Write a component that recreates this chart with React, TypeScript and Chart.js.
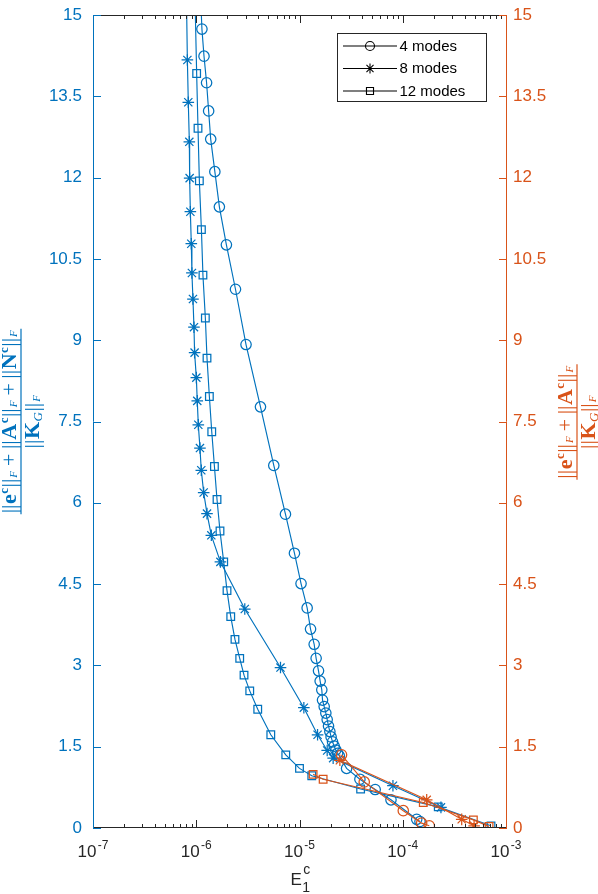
import React, { useEffect, useRef } from 'react';
import { Chart, registerables } from 'chart.js';

Chart.register(...registerables);

const BLUE = '#0072BD';
const ORANGE = '#D95319';
const AXIS_GRAY = '#262626';
const SANS = '"Liberation Sans", Arial, Helvetica, sans-serif';
const SERIF = '"Liberation Serif", "DejaVu Serif", serif';

// ---- Data ----
const modes4X = [1.107e-6, 1.135e-6, 1.189e-6, 1.259e-6, 1.318e-6, 1.38e-6, 1.514e-6, 1.675e-6, 1.959e-6, 2.399e-6, 3.034e-6, 4.188e-6, 5.636e-6, 7.311e-6, 8.933e-6, 1.035e-5, 1.186e-5, 1.279e-5, 1.387e-5, 1.449e-5, 1.528e-5, 1.585e-5, 1.644e-5, 1.671e-5, 1.734e-5, 1.799e-5, 1.854e-5, 1.91e-5, 1.968e-5, 2.023e-5, 2.089e-5, 2.168e-5, 2.249e-5, 2.339e-5, 2.432e-5, 2.858e-5, 3.846e-5, 5.408e-5, 7.691e-5, 1.365e-4, 1.469e-4];
const modes4Y = [15.25, 14.74, 14.24, 13.75, 13.23, 12.71, 12.11, 11.46, 10.76, 9.94, 8.92, 7.77, 6.69, 5.79, 5.07, 4.51, 4.06, 3.67, 3.39, 3.13, 2.9, 2.71, 2.55, 2.36, 2.24, 2.12, 2.0, 1.88, 1.78, 1.68, 1.59, 1.51, 1.44, 1.38, 1.33, 1.1, 0.9, 0.71, 0.52, 0.16, 0.12];

const modes8X = [8.054e-7, 8.204e-7, 8.375e-7, 8.57e-7, 8.63e-7, 8.77e-7, 8.954e-7, 9.078e-7, 9.29e-7, 9.506e-7, 9.638e-7, 1.002e-6, 1.023e-6, 1.047e-6, 1.086e-6, 1.119e-6, 1.18e-6, 1.271e-6, 1.4e-6, 1.714e-6, 2.951e-6, 6.546e-6, 1.102e-5, 1.496e-5, 1.854e-5, 2.118e-5, 8.035e-5, 2.344e-4];
const modes8Y = [15.2, 14.17, 13.39, 12.66, 11.99, 11.37, 10.78, 10.24, 9.76, 9.24, 8.77, 8.31, 7.88, 7.44, 7.01, 6.6, 6.19, 5.8, 5.4, 4.91, 4.04, 2.96, 2.22, 1.72, 1.43, 1.29, 0.78, 0.38];

const modes12X = [9.75e-7, 1.009e-6, 1.04e-6, 1.072e-6, 1.122e-6, 1.161e-6, 1.225e-6, 1.271e-6, 1.34e-6, 1.413e-6, 1.5e-6, 1.589e-6, 1.698e-6, 1.845e-6, 1.986e-6, 2.158e-6, 2.371e-6, 2.636e-6, 2.902e-6, 3.297e-6, 3.94e-6, 5.272e-6, 7.362e-6, 1.0e-5, 1.315e-5, 3.908e-5, 2.208e-4, 7.161e-4];
const modes12Y = [15.2, 13.92, 12.91, 11.94, 11.04, 10.2, 9.41, 8.67, 7.96, 7.31, 6.67, 6.06, 5.48, 4.91, 4.38, 3.9, 3.48, 3.13, 2.82, 2.53, 2.19, 1.72, 1.35, 1.1, 0.965, 0.72, 0.39, 0.04];

const rightModes4X = [2.553e-5, 4.236e-5, 1.012e-4, 1.524e-4, 1.807e-4];
const rightModes4Y = [1.35, 0.85, 0.32, 0.09, 0.04];

const rightModes8X = [2.46e-5, 1.706e-4, 3.724e-4, 4.909e-4];
const rightModes8Y = [1.25, 0.52, 0.16, 0.04];

const rightModes12X = [1.355e-5, 1.694e-5, 1.581e-4, 4.831e-4, 6.855e-4];
const rightModes12Y = [0.99, 0.9, 0.47, 0.15, 0.03];

const yTicks = [0, 1.5, 3, 4.5, 6, 7.5, 9, 10.5, 12, 13.5, 15];
const xDecades = [-7, -6, -5, -4, -3];
const legendLabels = ['4 modes', '8 modes', '12 modes'];
const legendStyles = ['circle', 'star', 'rect'];

type Seg = { t: string; font: string; dy?: number; pad?: number };

function richWidth(ctx: CanvasRenderingContext2D, segs: Seg[]) {
  let total = 0;
  const widths = segs.map((s) => {
    ctx.font = s.font;
    const w = ctx.measureText(s.t).width + 2 * (s.pad || 0);
    total += w;
    return w;
  });
  return { total, widths };
}

function drawRich(ctx: CanvasRenderingContext2D, segs: Seg[], cx: number, baseY: number) {
  const { total, widths } = richWidth(ctx, segs);
  let x = cx - total / 2;
  segs.forEach((s, i) => {
    ctx.font = s.font;
    ctx.fillText(s.t, x + (s.pad || 0), baseY + (s.dy || 0));
    x += widths[i];
  });
  return total;
}

const BIG_B = `bold 22px ${SERIF}`;
const BIG_R = `22px ${SERIF}`;
const SUP_B = `bold 13px ${SERIF}`;
const SUB_I = `italic 11px ${SERIF}`;
const SUB_I2 = `italic 13px ${SERIF}`;

function normSegs(letter: string): Seg[] {
  return [
    { t: '||', font: BIG_R },
    { t: letter, font: BIG_B, pad: 0.5 },
    { t: 'c', font: SUP_B, dy: -8 },
    { t: '||', font: BIG_R, pad: 0.5 },
    { t: 'F', font: SUB_I, dy: 1, pad: 0.5 },
  ];
}
const plus: Seg = { t: '+', font: BIG_R, pad: 4.5 };
const denomSegs: Seg[] = [
  { t: '||', font: BIG_R },
  { t: 'K', font: BIG_B, pad: 0.5 },
  { t: 'G', font: SUB_I2, dy: 3 },
  { t: '||', font: BIG_R, pad: 0.5 },
  { t: 'F', font: SUB_I, dy: 1, pad: 0.5 },
];

function drawFraction(
  ctx: CanvasRenderingContext2D,
  num: Seg[],
  cx: number,
  cy: number,
  lineLen: number,
  color: string
) {
  ctx.save();
  ctx.translate(cx, cy);
  ctx.rotate(-Math.PI / 2);
  ctx.fillStyle = color;
  ctx.strokeStyle = color;
  ctx.textAlign = 'left';
  ctx.textBaseline = 'alphabetic';
  drawRich(ctx, num, 0, -5);
  drawRich(ctx, denomSegs, 0, 18);
  ctx.lineWidth = 1.2;
  ctx.beginPath();
  ctx.moveTo(-lineLen / 2, 0);
  ctx.lineTo(lineLen / 2, 0);
  ctx.stroke();
  ctx.restore();
}

function drawMarker(ctx: CanvasRenderingContext2D, style: string, x: number, y: number, r: number) {
  ctx.beginPath();
  if (style === 'circle') {
    ctx.arc(x, y, r, 0, Math.PI * 2);
  } else if (style === 'rect') {
    ctx.rect(x - r * 0.75, y - r * 0.75, r * 1.5, r * 1.5);
  } else {
    for (let k = 0; k < 4; k++) {
      const a = (k * Math.PI) / 4;
      ctx.moveTo(x - Math.cos(a) * r, y - Math.sin(a) * r);
      ctx.lineTo(x + Math.cos(a) * r, y + Math.sin(a) * r);
    }
  }
  ctx.stroke();
}

const decorPlugin = {
  id: 'decor',
  afterDraw(chart: any) {
    const ctx: CanvasRenderingContext2D = chart.ctx;
    const { left, right, top, bottom } = chart.chartArea;
    const xs = chart.scales.x;
    const yl = chart.scales.y;
    const yr = chart.scales.y2;
    ctx.save();
    ctx.lineWidth = 1;

    // top & bottom axes with log ticks
    ctx.strokeStyle = AXIS_GRAY;
    ctx.beginPath();
    ctx.moveTo(left, bottom - 0.5);
    ctx.lineTo(right + 1, bottom - 0.5);
    ctx.moveTo(left, top + 0.5);
    ctx.lineTo(right + 1, top + 0.5);
    xDecades.forEach((e) => {
      for (let k = 1; k <= 9; k++) {
        const v = k * Math.pow(10, e);
        if (v > 1.0001e-3) break;
        const px = Math.round(xs.getPixelForValue(v)) + 0.5;
        const len = k === 1 ? 8 : 4;
        ctx.moveTo(px, bottom);
        ctx.lineTo(px, bottom - len);
        ctx.moveTo(px, top);
        ctx.lineTo(px, top + len);
      }
    });
    ctx.stroke();

    // left axis
    ctx.strokeStyle = BLUE;
    ctx.beginPath();
    ctx.moveTo(left + 0.5, top);
    ctx.lineTo(left + 0.5, bottom);
    yTicks.forEach((t) => {
      const py = Math.round(yl.getPixelForValue(t)) + 0.5;
      ctx.moveTo(left, py);
      ctx.lineTo(left + 8, py);
    });
    ctx.stroke();

    // right axis
    ctx.strokeStyle = ORANGE;
    ctx.beginPath();
    ctx.moveTo(right + 0.5, top);
    ctx.lineTo(right + 0.5, bottom);
    yTicks.forEach((t) => {
      const py = Math.round(yr.getPixelForValue(t)) + 0.5;
      ctx.moveTo(right + 1, py);
      ctx.lineTo(right - 7, py);
    });
    ctx.stroke();

    // x tick labels 10^e
    ctx.fillStyle = AXIS_GRAY;
    ctx.textBaseline = 'alphabetic';
    ctx.textAlign = 'left';
    xDecades.forEach((e) => {
      const px = xs.getPixelForValue(Math.pow(10, e));
      ctx.font = `17px ${SANS}`;
      const wb = ctx.measureText('10').width;
      ctx.font = `12px ${SANS}`;
      const exp = String(e);
      const we = ctx.measureText(exp).width;
      const gap = 1.5;
      const x0 = px - (wb + gap + we) / 2;
      ctx.font = `17px ${SANS}`;
      ctx.fillText('10', x0, 856.5);
      ctx.font = `12px ${SANS}`;
      ctx.fillText(exp, x0 + wb + gap, 849);
    });

    // x title E_1^c
    {
      ctx.font = `17px ${SANS}`;
      const wE = ctx.measureText('E').width;
      ctx.font = `14px ${SANS}`;
      const wc = ctx.measureText('c').width;
      const w1 = ctx.measureText('1').width;
      const tot = wE + 1 + Math.max(wc, w1);
      const cx = (left + right) / 2 + 1;
      const x0 = cx - tot / 2;
      ctx.font = `17px ${SANS}`;
      ctx.fillText('E', x0, 885);
      ctx.font = `14px ${SANS}`;
      ctx.fillText('c', x0 + wE + 1.5, 874);
      ctx.fillText('1', x0 + wE + 0.5, 891.5);
    }

    // y titles
    const leftNum: Seg[] = [...normSegs('e'), plus, ...normSegs('A'), plus, ...normSegs('N')];
    const rightNum: Seg[] = [...normSegs('e'), plus, ...normSegs('A')];
    const lw = richWidth(ctx, leftNum).total;
    const rw = richWidth(ctx, rightNum).total;
    drawFraction(ctx, leftNum, 21, 421.5, lw + 2, BLUE);
    drawFraction(ctx, rightNum, 577, 422, rw + 2, ORANGE);

    // legend
    const bw = 149;
    const bh = 68;
    const bx = right - 20 - bw + 0.5;
    const by = top + 18 + 0.5;
    ctx.fillStyle = '#ffffff';
    ctx.fillRect(bx, by, bw, bh);
    ctx.strokeStyle = AXIS_GRAY;
    ctx.lineWidth = 1;
    ctx.strokeRect(bx, by, bw, bh);
    legendLabels.forEach((lab, i) => {
      const ly = by + 12.5 + i * 22.5;
      ctx.strokeStyle = '#000000';
      ctx.lineWidth = 1.1;
      ctx.beginPath();
      ctx.moveTo(bx + 5.5, ly);
      ctx.lineTo(bx + 59.5, ly);
      ctx.stroke();
      const st = legendStyles[i];
      drawMarker(ctx, st, bx + 32.5, ly, st === 'circle' ? 4.5 : st === 'star' ? 5 : 4.7);
      ctx.fillStyle = '#000000';
      ctx.font = `15px ${SANS}`;
      ctx.textBaseline = 'middle';
      ctx.fillText(lab, bx + 62, ly + 0.5);
      ctx.textBaseline = 'alphabetic';
    });

    ctx.restore();
  },
};

function toPoints(xs: number[], ys: number[]) {
  return xs.map((x, i) => ({ x, y: ys[i] }));
}

function ds(label: string, xs: number[], ys: number[], color: string, style: string, axis: string, order: number) {
  return {
    label,
    data: toPoints(xs, ys),
    borderColor: color,
    backgroundColor: color,
    borderWidth: 1.15,
    pointStyle: style,
    pointRadius: style === 'circle' ? 5.2 : style === 'star' ? 5.8 : 5.4,
    pointBorderWidth: 1.25,
    pointBorderColor: color,
    pointBackgroundColor: 'rgba(0,0,0,0)',
    yAxisID: axis,
    order,
    tension: 0,
  };
}

const zeroPad = (s: any) => {
  s.paddingTop = 0;
  s.paddingBottom = 0;
};

export default function App() {
  const ref = useRef<HTMLCanvasElement | null>(null);
  useEffect(() => {
    document.body.style.margin = '0';
    if (!ref.current) return;
    const chart = new Chart(ref.current, {
      type: 'line',
      data: {
        datasets: [
          ds('4 modes', modes4X, modes4Y, BLUE, 'circle', 'y', 2),
          ds('8 modes', modes8X, modes8Y, BLUE, 'star', 'y', 2),
          ds('12 modes', modes12X, modes12Y, BLUE, 'rect', 'y', 2),
          ds('4 modes (right)', rightModes4X, rightModes4Y, ORANGE, 'circle', 'y2', 1),
          ds('8 modes (right)', rightModes8X, rightModes8Y, ORANGE, 'star', 'y2', 1),
          ds('12 modes (right)', rightModes12X, rightModes12Y, ORANGE, 'rect', 'y2', 1),
        ] as any,
      },
      options: {
        animation: false,
        responsive: true,
        maintainAspectRatio: false,
        layout: { padding: { top: 15, left: 0, right: 0, bottom: 0 } },
        plugins: { legend: { display: false }, tooltip: { enabled: false } },
        scales: {
          x: {
            type: 'logarithmic',
            min: 1e-7,
            max: 1e-3,
            ticks: { display: false },
            grid: { display: false, drawTicks: false },
            border: { display: false },
            afterFit: (s: any) => {
              s.height = 66;
              s.paddingLeft = 0;
              s.paddingRight = 0;
            },
          },
          y: {
            type: 'linear',
            position: 'left',
            min: 0,
            max: 15,
            ticks: {
              stepSize: 1.5,
              color: BLUE,
              padding: 11,
              font: { family: SANS, size: 17 },
              callback: (v: any) => String(Math.round(Number(v) * 10) / 10),
            },
            grid: { display: false, drawTicks: false },
            border: { display: false },
            afterFit: (s: any) => {
              s.width = 93;
              zeroPad(s);
            },
          },
          y2: {
            type: 'linear',
            position: 'right',
            min: 0,
            max: 15,
            ticks: {
              stepSize: 1.5,
              color: ORANGE,
              padding: 7,
              font: { family: SANS, size: 17 },
              callback: (v: any) => String(Math.round(Number(v) * 10) / 10),
            },
            grid: { display: false, drawTicks: false },
            border: { display: false },
            afterFit: (s: any) => {
              s.width = 92;
              zeroPad(s);
            },
          },
        },
      } as any,
      plugins: [decorPlugin],
    });
    return () => chart.destroy();
  }, []);
  return (
    <div style={{ position: 'relative', width: 598, height: 894 }}>
      <canvas ref={ref} />
    </div>
  );
}
